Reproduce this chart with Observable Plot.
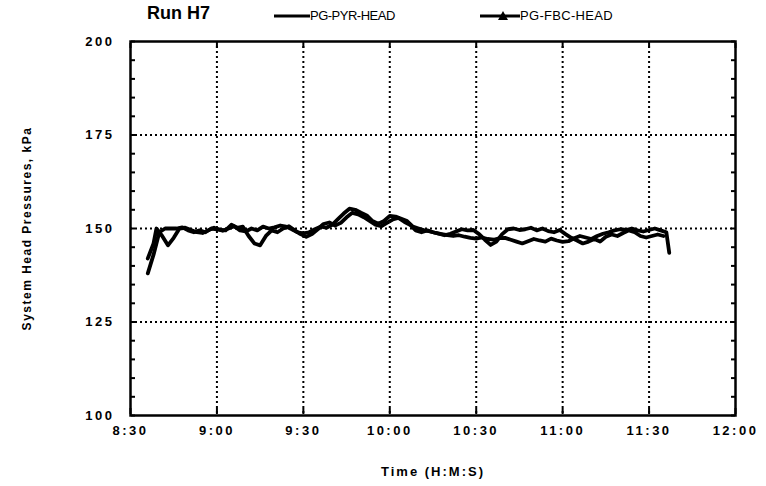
<!DOCTYPE html>
<html><head><meta charset="utf-8">
<script src="https://cdn.jsdelivr.net/npm/d3@7"></script>
<script src="https://cdn.jsdelivr.net/npm/@observablehq/plot@0.6"></script>
<style>
body{margin:0;background:#fff;font-family:"Liberation Sans",Arial,sans-serif;}
#wrap{position:relative;width:766px;height:486px;}
#head{position:relative;height:26px;}
#head .t{position:absolute;left:147px;top:3px;font-size:18px;font-weight:bold;}
#head .lg{position:absolute;top:8px;font-size:13px;display:flex;align-items:center;letter-spacing:-0.5px;}
</style></head><body>
<div id="wrap">
  <div id="head"></div>
  <div id="chart"></div>
</div>
<script>
// elapsed minutes after 8:30
const pyrMin = [6,8,10,12,14,16,18,20,22,24,26,28,30,32,34,36,38,40,42,44,46,48,50,52,54,56,58,60,62,64,66,68,70,72,74,76,78,80,82,84,86,88,90,92,94,96,98,100,102,104,106,108,110,112,114,116,118,120,122,124,126,128,130,132,134,136,138,140,142,144,146,148,150,152,154,156,158,160,162,164,166,168,170,172,174,176,178,180,182,184,186,187];
const pyrVal = [138,143,149,150,150,150,150.3,149.5,149,149.5,149,150,149.8,149.4,150,150.6,149.5,149.2,150,149.5,150.5,150,150.3,150.8,150.5,149.8,149,148.7,149,149.8,150.5,150.2,151,152.5,154,155.3,155,154.2,153.5,152,151.3,152,153.4,153.2,152.6,152,150.5,150,149.5,149.2,148.8,148.5,148.2,148,148.2,147.8,147.5,147.3,147.6,147.2,147,147.4,147.5,147,146.5,146,146.6,147.2,146.8,146.5,147.3,146.8,146.4,146.6,147.4,148,147.6,147.2,148,148.6,149,149.5,149.8,149.6,150,149.5,149.2,149.6,150,149.5,149,143.5];
const fbcMin = [6,8,9,11,13,15,17,19,21,23,25,27,29,31,33,35,37,39,41,43,45,47,49,51,53,55,57,59,61,63,65,67,69,71,73,75,77,79,81,83,85,87,89,91,93,95,97,99,101,103,105,107,109,111,113,115,117,119,121,123,125,127,129,131,133,135,137,139,141,143,145,147,149,151,153,155,157,159,161,163,165,167,169,171,173,175,177,179,181,183,185];
const fbcVal = [142,146,150,148,145.5,147.5,150,150.2,149.6,149,148.8,149.5,150.2,149.7,149.5,151,150.2,150.5,148,146,145.5,148,149.5,149,150,150.6,149.5,148.5,147.8,148.5,149.8,151.2,151.6,150.8,151.5,153,154.2,153.8,153,152,151,150.6,151.5,152.4,152.8,151.8,151,149.5,149,149.5,149,148.6,148.2,148.6,149.2,149.8,149.5,149.6,148.5,147,145.6,146.5,148.5,149.8,150,149.6,149.8,150.2,149.5,150,149.3,149,149.6,148.5,147.5,146.8,146,146.5,147.2,146.5,147.8,148.4,148,148.8,149.5,149,148,147.6,148,148.4,148];

const xTicks = [0,30,60,90,120,150,180,210];
const xTickLabels = ["8:30","9:00","9:30","10:00","10:30","11:00","11:30","12:00"];
const yTicks = [100,125,150,175,200];
const yMinor = d3.range(100,201,5);
const titleText = "Run H7";
const seriesNames = ["PG-PYR-HEAD","PG-FBC-HEAD"];

// header (title + legend)
const head = document.getElementById("head");
head.innerHTML = `<span class="t">${titleText}</span>
<span class="lg" style="left:274px"><svg width="36" height="10"><line x1="0" y1="5" x2="36" y2="5" stroke="#000" stroke-width="3"/></svg>${seriesNames[0]}</span>
<span class="lg" style="left:480px;letter-spacing:0.3px"><svg width="40" height="12"><line x1="0" y1="6" x2="40" y2="6" stroke="#000" stroke-width="3"/><path d="M23,1 L28,10 L18,10 Z" fill="#000"/></svg>${seriesNames[1]}</span>`;

const pyr = pyrMin.map((m,i)=>({m, v: pyrVal[i]}));
const fbc = fbcMin.map((m,i)=>({m, v: fbcVal[i]}));

const chart = Plot.plot({
  width: 766,
  height: 460,
  marginLeft: 130,
  marginRight: 31,
  marginTop: 15,
  marginBottom: 71,
  style: {fontFamily: "Liberation Sans, Arial, sans-serif", background: "#fff", color: "#000"},
  x: {domain: [0,210]},
  y: {domain: [100,200]},
  marks: [
    Plot.gridY([125,150,175], {stroke:"#000", strokeOpacity:1, strokeWidth:2, strokeDasharray:"2,3"}),
    Plot.gridX([30,60,90,120,150,180], {stroke:"#000", strokeOpacity:1, strokeWidth:2, strokeDasharray:"2,3"}),
    Plot.axisY(yMinor, {anchor:"left", tickSize:4, dx:5, strokeWidth:2, text:null, label:null}),
    Plot.axisY(yMinor, {anchor:"right", tickSize:4, dx:-5, strokeWidth:2, text:null, label:null}),
    Plot.axisX(xTicks, {anchor:"top", tickSize:5, dy:6, strokeWidth:2, text:null, label:null}),
    Plot.axisX(xTicks, {anchor:"bottom", tickSize:6, dy:-7, strokeWidth:2, text:null, label:null}),
    Plot.axisY(yTicks, {anchor:"left", tickSize:0, tickPadding:16, fontSize:13, fontWeight:"bold",
      label:"System Head Pressures, kPa", labelAnchor:"center", labelArrow:"none", labelOffset:108}),
    Plot.axisX(xTicks, {anchor:"bottom", tickSize:0, tickPadding:10, fontSize:13, fontWeight:"bold",
      tickFormat:(d)=>xTickLabels[xTicks.indexOf(d)],
      label:"Time (H:M:S)", labelAnchor:"center", labelArrow:"none", labelOffset:60}),
    Plot.line(pyr, {x:"m", y:"v", stroke:"#000", strokeWidth:3.8, curve:"linear"}),
    Plot.line(fbc, {x:"m", y:"v", stroke:"#000", strokeWidth:3.8, curve:"linear"}),
    Plot.frame({stroke:"#000", strokeWidth:2.5})
  ]
});
chart.querySelectorAll('g[aria-label="y-axis tick label"] text, g[aria-label="x-axis tick label"] text').forEach(t=>{
  t.setAttribute("letter-spacing","2.5");
});
chart.querySelectorAll('g[aria-label="y-axis label"] text').forEach(t=>{
  t.setAttribute("font-weight","bold"); t.setAttribute("font-size","12"); t.setAttribute("letter-spacing","1.5");
});
chart.querySelectorAll('g[aria-label="x-axis label"] text').forEach(t=>{
  t.setAttribute("font-weight","bold"); t.setAttribute("font-size","13"); t.setAttribute("letter-spacing","2");
});
document.getElementById("chart").appendChild(chart);
</script>
</body></html>
